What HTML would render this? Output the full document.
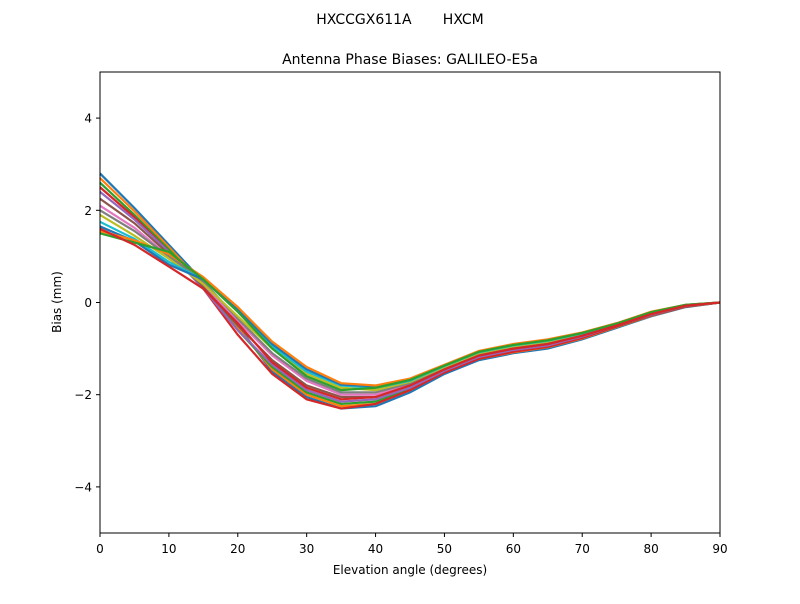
<!DOCTYPE html>
<html><head><meta charset="utf-8"><style>
body{margin:0;background:#fff;font-family:"DejaVu Sans","Liberation Sans",sans-serif}
</style></head><body>
<svg id="c" width="800" height="600" xmlns="http://www.w3.org/2000/svg" font-family="DejaVu Sans, Liberation Sans, sans-serif">
<rect width="800" height="600" fill="#fff"/>
<text x="400" y="24" text-anchor="middle" font-size="14" style="white-space:pre">HXCCGX611A       HXCM</text>
<text x="410" y="64" text-anchor="middle" font-size="14">Antenna Phase Biases: GALILEO-E5a</text>
<g id="lines"></g>
<rect x="100" y="72" width="620" height="461" fill="none" stroke="#000" stroke-width="1"/>
<g id="ticks"></g>
<text x="410" y="574" text-anchor="middle" font-size="12">Elevation angle (degrees)</text>
<text transform="translate(61,302) rotate(-90)" text-anchor="middle" font-size="12">Bias (mm)</text>
</svg>
<script>
const elevations=[0,5,10,15,20,25,30,35,40,45,50,55,60,65,70,75,80,85,90];
const xTicks=[0,10,20,30,40,50,60,70,80,90];
const yTicks=[-4,-2,0,2,4];
const s1=[2.8,2.05,1.25,0.45,-0.5,-1.5,-2.05,-2.3,-2.25,-1.95,-1.55,-1.25,-1.1,-1.0,-0.8,-0.55,-0.3,-0.1,0];
const s2=[2.7,1.98,1.2,0.4,-0.55,-1.45,-2.0,-2.25,-2.2,-1.9,-1.5,-1.22,-1.08,-0.97,-0.78,-0.53,-0.29,-0.09,0];
const s3=[2.6,1.9,1.15,0.35,-0.6,-1.4,-1.95,-2.2,-2.15,-1.88,-1.5,-1.2,-1.05,-0.95,-0.76,-0.52,-0.28,-0.09,0];
const s4=[2.5,1.85,1.1,0.3,-0.7,-1.55,-2.1,-2.3,-2.2,-1.9,-1.52,-1.22,-1.07,-0.96,-0.77,-0.52,-0.28,-0.09,0];
const s5=[2.4,1.8,1.1,0.3,-0.6,-1.35,-1.9,-2.15,-2.1,-1.85,-1.48,-1.18,-1.03,-0.93,-0.74,-0.5,-0.27,-0.08,0];
const s6=[2.25,1.72,1.05,0.35,-0.5,-1.25,-1.8,-2.05,-2.05,-1.8,-1.45,-1.15,-1.0,-0.9,-0.72,-0.5,-0.26,-0.08,0];
const s7=[2.1,1.62,1.0,0.4,-0.4,-1.15,-1.7,-2.0,-2.0,-1.78,-1.43,-1.13,-0.98,-0.88,-0.7,-0.49,-0.25,-0.07,0];
const s8=[2.0,1.55,1.0,0.45,-0.35,-1.1,-1.65,-1.95,-1.95,-1.75,-1.42,-1.12,-0.96,-0.86,-0.69,-0.48,-0.24,-0.07,0];
const s9=[1.9,1.45,0.95,0.4,-0.3,-1.0,-1.55,-1.85,-1.9,-1.72,-1.4,-1.1,-0.95,-0.85,-0.68,-0.47,-0.23,-0.06,0];
const s10=[1.75,1.38,0.88,0.5,-0.2,-0.95,-1.5,-1.8,-1.85,-1.7,-1.38,-1.08,-0.93,-0.83,-0.67,-0.46,-0.22,-0.06,0];
const s11=[1.65,1.33,0.82,0.5,-0.15,-0.9,-1.45,-1.78,-1.82,-1.67,-1.36,-1.06,-0.91,-0.81,-0.66,-0.45,-0.21,-0.05,0];
const s12=[1.55,1.35,1.05,0.55,-0.1,-0.85,-1.4,-1.75,-1.8,-1.65,-1.35,-1.05,-0.9,-0.8,-0.65,-0.45,-0.2,-0.05,0];
const s13=[1.5,1.3,1.1,0.5,-0.2,-1.0,-1.6,-1.9,-1.85,-1.68,-1.37,-1.07,-0.92,-0.82,-0.66,-0.46,-0.21,-0.05,0];
const s14=[1.6,1.25,0.78,0.3,-0.45,-1.3,-1.85,-2.1,-2.05,-1.8,-1.45,-1.15,-1.0,-0.9,-0.72,-0.5,-0.25,-0.07,0];
const series=[s1,s2,s3,s4,s5,s6,s7,s8,s9,s10,s11,s12,s13,s14];
const colors=["#1f77b4","#ff7f0e","#2ca02c","#d62728","#9467bd","#8c564b","#e377c2","#7f7f7f","#bcbd22","#17becf"];
const X=v=>100+v/90*620;
const Y=v=>302.5-v*46.1;
const NS="http://www.w3.org/2000/svg";
const g=document.getElementById('lines');
series.forEach((s,i)=>{
  const p=document.createElementNS(NS,'polyline');
  p.setAttribute('points',s.map((v,j)=>X(elevations[j])+','+Y(v)).join(' '));
  p.setAttribute('fill','none');
  p.setAttribute('stroke',colors[i%10]);
  p.setAttribute('stroke-width','2.2');
  
  
  g.appendChild(p);
});
const t=document.getElementById('ticks');
xTicks.forEach(v=>{
  const l=document.createElementNS(NS,'line');
  l.setAttribute('x1',X(v));l.setAttribute('x2',X(v));l.setAttribute('y1',533);l.setAttribute('y2',537);l.setAttribute('stroke','#000');
  
  
  t.appendChild(l);
  const tx=document.createElementNS(NS,'text');
  tx.setAttribute('x',X(v));tx.setAttribute('y',553);tx.setAttribute('text-anchor','middle');tx.setAttribute('font-size','12');
  tx.textContent=v;
  
  
  t.appendChild(tx);
});
yTicks.forEach(v=>{
  const l=document.createElementNS(NS,'line');
  l.setAttribute('x1',96);l.setAttribute('x2',100);l.setAttribute('y1',Y(v));l.setAttribute('y2',Y(v));l.setAttribute('stroke','#000');
  
  
  t.appendChild(l);
  const tx=document.createElementNS(NS,'text');
  tx.setAttribute('x',92);tx.setAttribute('y',Y(v)+4.5);tx.setAttribute('text-anchor','end');tx.setAttribute('font-size','12');
  tx.textContent=v<0?'\u2212'+Math.abs(v):String(v);
  
  
  t.appendChild(tx);
});
</script>
</body></html>
